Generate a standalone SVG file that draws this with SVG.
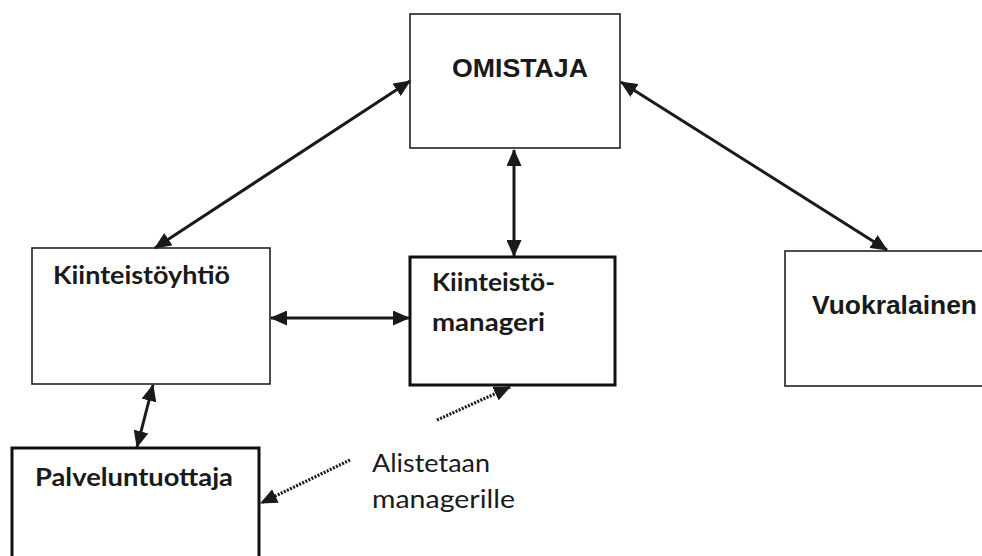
<svg xmlns="http://www.w3.org/2000/svg" width="982" height="556" viewBox="0 0 982 556">
  <style>
    .box-thin { fill: #ffffff; stroke: #222222; stroke-width: 1.6; }
    .box-bold { fill: #ffffff; stroke: #111111; stroke-width: 3; }
    .caps { font-family: "Liberation Sans", Arial, sans-serif; font-weight: bold; font-size: 26px; fill: #1a1a1a; }
    .label { font-family: Lato, "Open Sans", sans-serif; font-weight: bold; font-size: 24px; fill: #1a1a1a; }
    .note { font-family: Lato, "Open Sans", sans-serif; font-size: 25px; fill: #1a1a1a; }
    .link { stroke: #1a1a1a; stroke-width: 3; fill: none; }
    .dotted { stroke: #1a1a1a; stroke-width: 3.2; fill: none; stroke-dasharray: 2 1.4; }
  </style>
  <defs>
    <marker id="head" markerUnits="userSpaceOnUse" markerWidth="17" markerHeight="15" refX="16" refY="7.5" orient="auto-start-reverse">
      <path d="M0,0 L17,7.5 L0,15 Z" fill="#1a1a1a"/>
    </marker>
  </defs>
  <rect width="982" height="556" fill="#ffffff"/>

  <g id="omistaja">
    <rect class="box-thin" x="410" y="14" width="210" height="134"/>
    <text class="caps" x="452" y="77" textLength="136" lengthAdjust="spacingAndGlyphs">OMISTAJA</text>
  </g>

  <g id="kiinteistoyhtio">
    <rect class="box-thin" x="32" y="248" width="238" height="136"/>
    <text class="label" x="53" y="284" textLength="177" lengthAdjust="spacingAndGlyphs" fill="#2a2a2a">Kiinteistöyhtiö</text>
  </g>

  <g id="kiinteistomanageri">
    <rect class="box-bold" x="410" y="257" width="205" height="128"/>
    <text class="label" x="432" y="291" textLength="123" lengthAdjust="spacingAndGlyphs">Kiinteistö-</text>
    <text class="label" x="432" y="331" textLength="113" lengthAdjust="spacingAndGlyphs">manageri</text>
  </g>

  <g id="vuokralainen">
    <rect class="box-thin" x="785" y="251" width="205" height="135"/>
    <text class="caps" x="812" y="314" textLength="165" lengthAdjust="spacingAndGlyphs">Vuokralainen</text>
  </g>

  <g id="palveluntuottaja">
    <rect class="box-bold" x="12" y="448" width="247" height="120"/>
    <text class="label" x="35" y="486" textLength="198" lengthAdjust="spacingAndGlyphs">Palveluntuottaja</text>
  </g>

  <g id="note">
    <text class="note" x="372" y="472" textLength="118" lengthAdjust="spacingAndGlyphs">Alistetaan</text>
    <text class="note" x="372" y="508" textLength="143" lengthAdjust="spacingAndGlyphs">managerille</text>
  </g>

  <g id="connectors">
    <line class="link" x1="410" y1="81" x2="155" y2="248" marker-start="url(#head)" marker-end="url(#head)"/>
    <line class="link" x1="514" y1="150" x2="514" y2="256" marker-start="url(#head)" marker-end="url(#head)"/>
    <line class="link" x1="621" y1="82" x2="887" y2="250" marker-start="url(#head)" marker-end="url(#head)"/>
    <line class="link" x1="271" y1="318" x2="409" y2="318" marker-start="url(#head)" marker-end="url(#head)"/>
    <line class="link" x1="153" y1="385" x2="137" y2="447" marker-start="url(#head)" marker-end="url(#head)"/>
    <line class="dotted" x1="437" y1="420" x2="510" y2="387" marker-end="url(#head)"/>
    <line class="dotted" x1="350" y1="460" x2="261" y2="503" marker-end="url(#head)"/>
  </g>
</svg>
